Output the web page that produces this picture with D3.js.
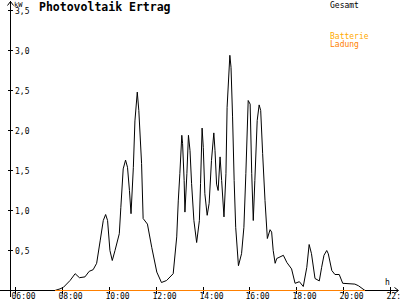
<!DOCTYPE html>
<html><head><meta charset="utf-8">
<script src="https://cdn.jsdelivr.net/npm/d3@7"></script>
<style>
html,body{margin:0;padding:0;background:#fff;}
text{font-family:"DejaVu Sans Mono",monospace;}
</style></head>
<body><svg id="c" width="400" height="300"></svg>
<script>
const title = "Photovoltaik Ertrag";
const yTicks = [0.5,1.0,1.5,2.0,2.5,3.0,3.5];
const xTicks = ["06:00","08:00","10:00","12:00","14:00","16:00","18:00","20:00","22:00"];
const legendNames = ["Gesamt","Batterie","Ladung"];
const gesamtTimes = ["07:42","07:55","08:04","08:21","08:34","08:45","08:59","09:10","09:20","09:29","09:38","09:46","09:52","09:57","10:03","10:09","10:16","10:27","10:31","10:37","10:43","10:48","10:53","10:57","11:03","11:07","11:13","11:17","11:24","11:28","11:39","11:50","12:03","12:15","12:28","12:45","12:54","12:58","13:02","13:07","13:09","13:13","13:15","13:20","13:24","13:28","13:32","13:38","13:45","13:52","13:55","13:59","14:02","14:06","14:12","14:17","14:23","14:29","14:32","14:36","14:40","14:45","14:49","14:55","15:00","15:03","15:10","15:13","15:17","15:21","15:25","15:32","15:40","15:46","15:51","15:57","16:02","16:06","16:10","16:14","16:20","16:25","16:29","16:34","16:40","16:46","16:53","16:57","17:01","17:06","17:10","17:27","17:36","17:48","17:57","18:08","18:18","18:27","18:33","18:39","18:48","18:59","19:05","19:11","19:18","19:22","19:31","19:39","19:50","19:59","20:30","20:39","20:56"];
const gesamtValues = [0.00,0.02,0.04,0.125,0.21,0.16,0.17,0.24,0.26,0.34,0.62,0.875,0.95,0.875,0.5,0.375,0.5,0.71,1.04,1.52,1.63,1.54,1.25,0.96,1.54,2.12,2.48,2.25,1.59,0.9,0.83,0.54,0.23,0.10,0.125,0.21,0.67,1.12,1.46,1.94,1.84,1.375,0.98,1.46,1.94,1.75,1.34,0.875,0.6,0.875,1.34,2.03,1.79,1.21,0.94,1.09,1.625,1.97,1.75,1.33,1.25,1.67,1.375,0.92,1.46,2.29,2.94,2.79,2.17,1.375,0.79,0.31,0.46,0.79,1.46,2.375,2.33,1.46,0.875,1.375,2.125,2.32,2.25,1.71,1.125,0.65,0.76,0.73,0.5,0.34,0.4,0.44,0.35,0.27,0.09,0.11,0.05,0.29,0.575,0.46,0.15,0.12,0.29,0.44,0.5,0.46,0.25,0.2,0.2,0.09,0.08,0.06,0.0];
const ladungTimes = ["07:42","20:56"];
const ladungValues = [0,0];

const toH = s => { const [h,m] = s.split(":").map(Number); return h + m/60; };
const svg = d3.select("#c");
const x = d3.scaleLinear().domain([6,22]).range([15,390]);
const y = d3.scaleLinear().domain([0,3.5]).range([290.5,10.5]);

// axes lines
svg.append("line").attr("x1",10.5).attr("x2",10.5).attr("y1",1).attr("y2",297).attr("stroke","#000");
svg.append("line").attr("x1",0).attr("x2",398).attr("y1",290.5).attr("y2",290.5).attr("stroke","#000");
// arrows
svg.append("path").attr("d","M7.5,5.5 L10.5,1.5 L13.5,5.5").attr("fill","none").attr("stroke","#000");
svg.append("path").attr("d","M394.5,287.5 L398.5,290.5 L394.5,293.5").attr("fill","none").attr("stroke","#000");

// y ticks
const fmt = v => v.toFixed(1).replace(".",",");
yTicks.forEach(v=>{
  const yy = Math.floor(y(v))+0.5;
  svg.append("line").attr("x1",8).attr("x2",13).attr("y1",yy).attr("y2",yy).attr("stroke","#000");
  svg.append("text").attr("x",15).attr("y",yy+3).attr("font-size","8px").text(fmt(v));
});
svg.append("text").attr("x",14).attr("y",6.5).attr("font-size","7px").text("kW");

// x ticks
xTicks.forEach(t=>{
  const xx = Math.round(x(toH(t)))+0.5;
  svg.append("line").attr("x1",xx).attr("x2",xx).attr("y1",287).attr("y2",294).attr("stroke","#000");
  svg.append("text").attr("x",xx-4).attr("y",299).attr("font-size","8px").text(t);
});
svg.append("text").attr("x",385).attr("y",285).attr("font-size","8px").text("h");

// series
const line = d3.line().x(d=>x(toH(d[0]))).y(d=>y(d[1]));
svg.append("path").datum(gesamtTimes.map((t,i)=>[t,gesamtValues[i]]))
  .attr("d",line).attr("fill","none").attr("stroke","#000").attr("stroke-width",1);
svg.append("path").datum(ladungTimes.map((t,i)=>[t,ladungValues[i]]))
  .attr("d",line).attr("fill","none").attr("stroke","#ff8000").attr("stroke-width",1)
  .attr("shape-rendering","crispEdges");

// title
svg.append("text").attr("x",39).attr("y",11).attr("font-size","11.5px").attr("font-weight","bold").text(title);

// legend
svg.append("text").attr("x",330).attr("y",7.5).attr("font-size","8px").attr("fill","#000").text(legendNames[0]);
svg.append("text").attr("x",330).attr("y",39).attr("font-size","8px").attr("fill","#ffaa00").text(legendNames[1]);
svg.append("text").attr("x",330).attr("y",47).attr("font-size","8px").attr("fill","#ff8000").text(legendNames[2]);
</script></body></html>
